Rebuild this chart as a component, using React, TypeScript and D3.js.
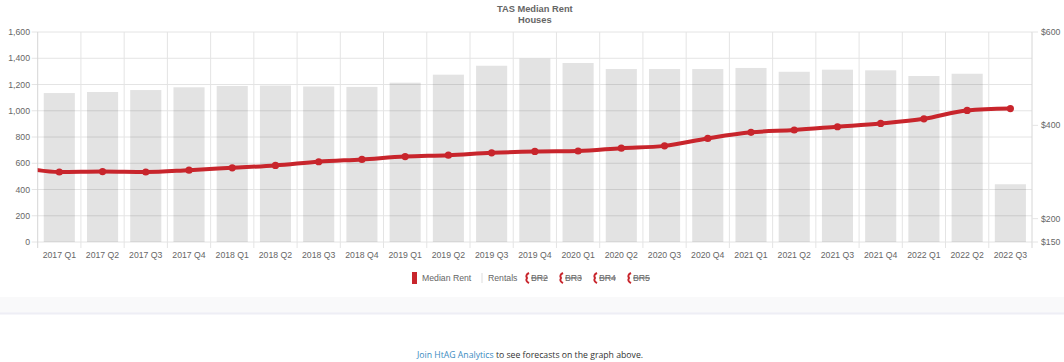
import * as React from 'react';
import * as d3 from 'd3';

// chart values
const quarters = [
  '2017 Q1', '2017 Q2', '2017 Q3', '2017 Q4',
  '2018 Q1', '2018 Q2', '2018 Q3', '2018 Q4',
  '2019 Q1', '2019 Q2', '2019 Q3', '2019 Q4',
  '2020 Q1', '2020 Q2', '2020 Q3', '2020 Q4',
  '2021 Q1', '2021 Q2', '2021 Q3', '2021 Q4',
  '2022 Q1', '2022 Q2', '2022 Q3',
];
const rentals = [
  1135, 1143, 1158, 1179, 1189, 1192, 1185, 1182, 1214, 1275, 1343, 1397,
  1364, 1318, 1318, 1318, 1326, 1297, 1313, 1308, 1265, 1282, 440,
];
const medianRent = [
  300, 301, 300, 304, 309, 314, 322, 327, 333, 336, 341, 344,
  345, 351, 356, 372, 385, 390, 397, 404, 414, 432, 436,
];
// the quarter before the range; only its clipped lead-in shows at the left edge
const priorRent = 312;

const leftTicks = [0, 200, 400, 600, 800, 1000, 1200, 1400, 1600];
const rightTicks = [150, 200, 400, 600];
const strikeLabels = ['BR2', 'BR3', 'BR4', 'BR5'];

const W = 1064;
const H = 362;
const m = { left: 37.7, right: 1032, top: 32, bottom: 242 };
const FONT = '"Liberation Sans", Arial, Helvetica, sans-serif';
const RED = '#c8252c';
const TXT = '#666';
const GRID = '#e4e4e4';
const FS = 8.7;

export default function App() {
  React.useEffect(() => {
    document.body.style.margin = '0';
  }, []);

  const x = d3.scaleBand<string>()
    .domain(quarters)
    .range([m.left, m.right])
    .paddingInner(0.28)
    .paddingOuter(0.14);
  const step = x.step();
  const cx = (i: number) => m.left + step * (i + 0.5);

  const yL = d3.scaleLinear().domain([0, 1600]).range([m.bottom, m.top]);
  const yR = d3.scaleLinear().domain([150, 600]).range([m.bottom, m.top]);

  const pts: [number, number][] = [[cx(-1), yR(priorRent)]].concat(
    medianRent.map((v, i) => [cx(i), yR(v)] as [number, number])
  );
  const line = d3.line().curve(d3.curveMonotoneX)(pts) || '';

  const legendY = 278;

  return (
    <svg width={W} height={H} style={{ display: 'block', fontFamily: FONT }}>
      <defs>
        <clipPath id="plot">
          <rect x={m.left} y={m.top - 6} width={m.right - m.left} height={m.bottom - m.top + 12} />
        </clipPath>
      </defs>

      {/* title */}
      <text x={(m.left + m.right) / 2} y={12} textAnchor="middle" fontSize={9.3} fontWeight="bold" fill={TXT}>
        TAS Median Rent
      </text>
      <text x={(m.left + m.right) / 2} y={23} textAnchor="middle" fontSize={9.3} fontWeight="bold" fill={TXT}>
        Houses
      </text>

      {/* horizontal grid + left axis */}
      {leftTicks.map(t => (
        <g key={t}>
          <line x1={m.left - 6} x2={m.right} y1={yL(t)} y2={yL(t)} stroke={GRID} strokeWidth={1} />
          <text x={30} y={yL(t) + 3} textAnchor="end" fontSize={FS} fill={TXT}>
            {d3.format(',')(t)}
          </text>
        </g>
      ))}

      {/* vertical grid */}
      {d3.range(quarters.length + 1).map(i => (
        <line key={i} x1={m.left + step * i} x2={m.left + step * i} y1={m.top} y2={m.bottom + 6}
          stroke={i === 0 || i === quarters.length ? '#d6d6d6' : GRID} strokeWidth={1} />
      ))}

      {/* right axis */}
      {rightTicks.map(t => (
        <g key={t}>
          <line x1={m.right} x2={m.right + 6} y1={yR(t)} y2={yR(t)} stroke={GRID} />
          <text x={1041} y={yR(t) + 3} fontSize={FS} fill={TXT}>{'$' + t}</text>
        </g>
      ))}

      {/* bars */}
      {rentals.map((v, i) => (
        <rect key={quarters[i]} x={x(quarters[i])} y={yL(v)} width={x.bandwidth()}
          height={yL(0) - yL(v)} fill="rgba(0,0,0,0.11)" />
      ))}

      {/* x labels */}
      {quarters.map((q, i) => (
        <text key={q} x={cx(i)} y={258} textAnchor="middle" fontSize={FS} fill={TXT}>{q}</text>
      ))}

      {/* median rent line */}
      <g clipPath="url(#plot)">
        <path d={line} fill="none" stroke={RED} strokeWidth={4} strokeLinejoin="round" />
      </g>
      {medianRent.map((v, i) => (
        <circle key={i} cx={cx(i)} cy={yR(v)} r={3.6} fill={RED} />
      ))}

      {/* legend */}
      <rect x={412} y={legendY - 6} width={5} height={12} fill={RED} />
      <text x={422} y={legendY + 3} fontSize={FS} fill={TXT}>Median Rent</text>
      <line x1={482} x2={482} y1={legendY - 5} y2={legendY + 5} stroke="#ddd" strokeWidth={1} />
      <text x={488} y={legendY + 3} fontSize={FS} fill={TXT}>Rentals</text>
      {strikeLabels.map((s, i) => {
        const lx = 527 + i * 34;
        return (
          <g key={s}>
            <path d={`M${lx + 2},${legendY - 5} Q${lx - 2},${legendY - 3} ${lx},${legendY} Q${lx - 2},${legendY + 3} ${lx + 2},${legendY + 5}`}
              fill="none" stroke={RED} strokeWidth={2} />
            <text x={lx + 4} y={legendY + 3} fontSize={FS} fill={TXT}>{s}</text>
            <line x1={lx + 4} x2={lx + 21} y1={legendY} y2={legendY} stroke={TXT} strokeWidth={1} />
          </g>
        );
      })}

      {/* footer band */}
      <rect x={0} y={297} width={W} height={16} fill="#f9f9fa" />
      <line x1={0} x2={W} y1={313.5} y2={313.5} stroke="#eeeef5" strokeWidth={2} />

      <text x={530} y={358} textAnchor="middle" fontSize={8.7} fontFamily='"Open Sans", "Noto Sans", sans-serif' fill="#333">
        <tspan fill="#3b8bbf">Join HtAG Analytics</tspan> to see forecasts on the graph above.
      </text>
    </svg>
  );
}
